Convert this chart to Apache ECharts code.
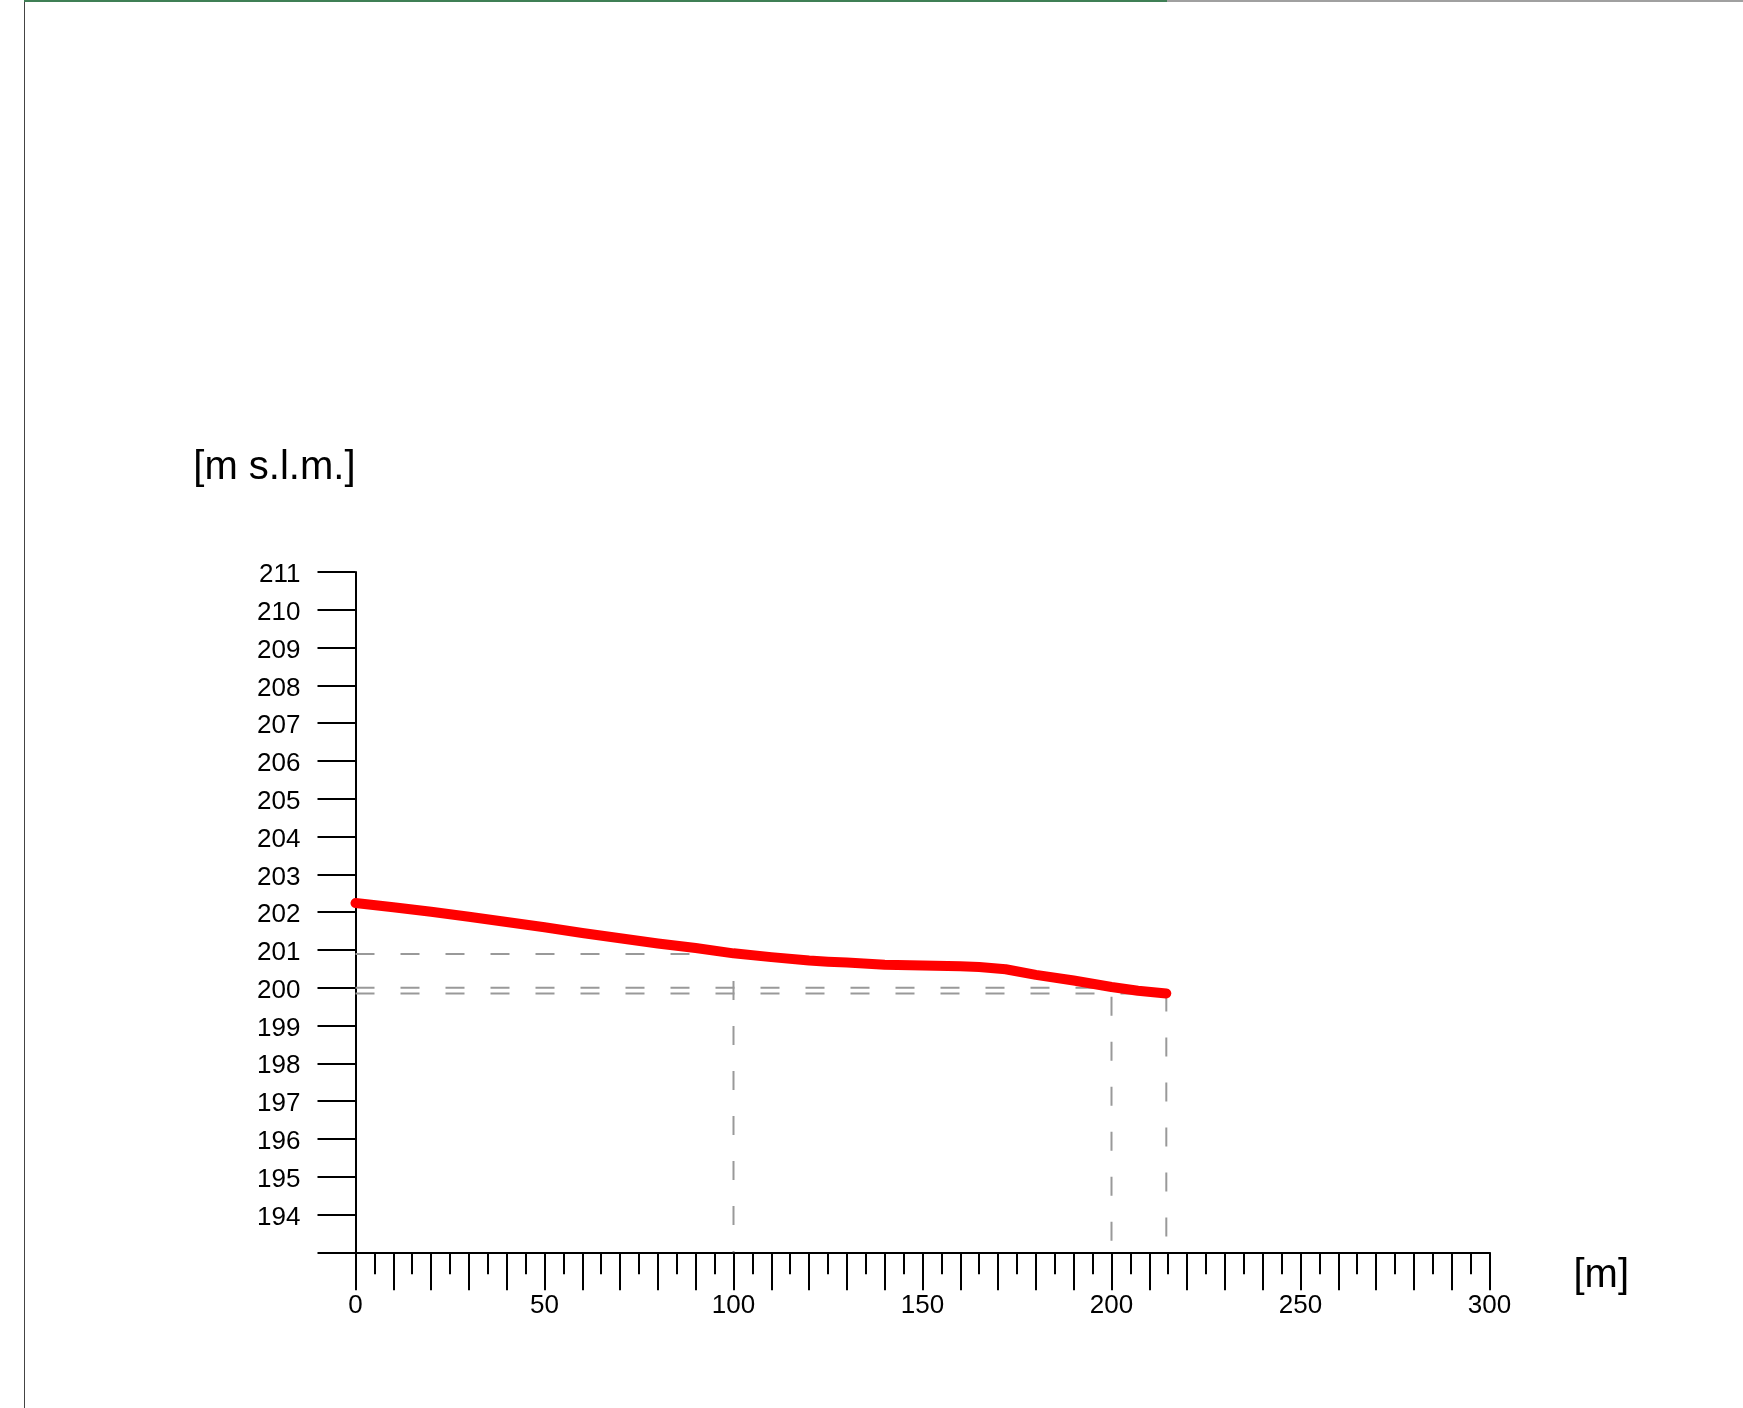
<!DOCTYPE html>
<html>
<head>
<meta charset="utf-8">
<script src="https://cdn.jsdelivr.net/npm/echarts@6/dist/echarts.min.js"></script>
<style>
html,body{margin:0;padding:0;background:#fff;}
#chart{width:1743px;height:1408px;}
</style>
</head>
<body>
<div id="chart"></div>
<script>
// Profile data: distance [m] and elevation [m s.l.m.]
const profileDist = [0, 10, 20, 30, 40, 50, 60, 70, 80, 90, 100, 110, 120, 125, 130, 140, 150, 160, 165, 172, 180, 190, 200, 207, 214.5];
const profileElev = [202.24, 202.13, 202.01, 201.88, 201.74, 201.60, 201.45, 201.31, 201.17, 201.05, 200.91, 200.81, 200.72, 200.69, 200.67, 200.61, 200.59, 200.57, 200.55, 200.49, 200.34, 200.19, 200.02, 199.92, 199.85];

// Reference points marked with dashed guides
const markDist = [100, 200, 214.5];
const markElev = [200.89, 200.00, 199.85];

// Tick labels
const xTickLabels = [0, 50, 100, 150, 200, 250, 300];
const yTickLabels = [194, 195, 196, 197, 198, 199, 200, 201, 202, 203, 204, 205, 206, 207, 208, 209, 210, 211];

const xName = '[m]';
const yName = '[m s.l.m.]';

const FONT = '"Liberation Sans", Arial, sans-serif';

const chart = echarts.init(document.getElementById('chart'), null, {renderer: 'canvas'});

const guideSeries = markDist.map((d, i) => ({
  type: 'line',
  data: [[0, markElev[i]], [d, markElev[i]], [d, 193]],
  symbol: 'none',
  silent: true,
  z: 1,
  lineStyle: {color: '#999999', width: 2, type: [19, 26]}
}));

chart.setOption({
  backgroundColor: '#ffffff',
  animation: false,
  grid: {left: 355.5, right: 253.5, top: 572, bottom: 155.7, containLabel: false},
  xAxis: {
    type: 'value',
    min: 0, max: 300, interval: 10,
    name: '{n|' + xName + '}',
    nameLocation: 'end',
    nameGap: 84,
    nameTextStyle: {
      align: 'left', verticalAlign: 'top',
      rich: {n: {fontFamily: FONT, fontSize: 40, color: '#000', padding: [4, 0, 0, 0]}}
    },
    axisLine: {onZero: false, lineStyle: {color: '#000', width: 2}},
    axisTick: {show: true, length: 38, lineStyle: {color: '#000', width: 2}},
    minorTick: {show: true, splitNumber: 2, length: 22, lineStyle: {color: '#000', width: 2}},
    splitLine: {show: false},
    minorSplitLine: {show: false},
    axisLabel: {
      margin: 41,
      fontFamily: FONT, fontSize: 26, color: '#000',
      formatter: v => xTickLabels.includes(v) ? String(v) : ''
    }
  },
  yAxis: {
    type: 'value',
    min: 193, max: 211, interval: 1,
    name: yName,
    nameLocation: 'end',
    nameGap: 104,
    nameTextStyle: {fontFamily: FONT, fontSize: 40, color: '#000', align: 'right', verticalAlign: 'middle'},
    axisLine: {show: true, onZero: true, lineStyle: {color: '#000', width: 2}},
    axisTick: {show: true, length: 38, lineStyle: {color: '#000', width: 2}},
    splitLine: {show: false},
    axisLabel: {
      margin: 55,
      formatter: v => yTickLabels.includes(v) ? '{t|' + v + '}' : '',
      rich: {t: {fontFamily: FONT, fontSize: 26, color: '#000', padding: [6, 0, 0, 0]}}
    }
  },
  series: guideSeries.concat([{
    type: 'line',
    data: profileDist.map((d, i) => [d, profileElev[i]]),
    symbol: 'none',
    clip: false,
    z: 5,
    lineStyle: {color: '#ff0000', width: 10, cap: 'round', join: 'round'}
  }]),
  graphic: [
    {type: 'line', shape: {x1: 24.5, y1: 0, x2: 24.5, y2: 1408}, style: {stroke: '#444', lineWidth: 1}, silent: true},
    {type: 'line', shape: {x1: 24, y1: 1, x2: 1167, y2: 1}, style: {stroke: '#3f7f55', lineWidth: 2}, silent: true},
    {type: 'line', shape: {x1: 1167, y1: 1, x2: 1743, y2: 1}, style: {stroke: '#a0a0a0', lineWidth: 2}, silent: true}
  ]
});
</script>
</body>
</html>
